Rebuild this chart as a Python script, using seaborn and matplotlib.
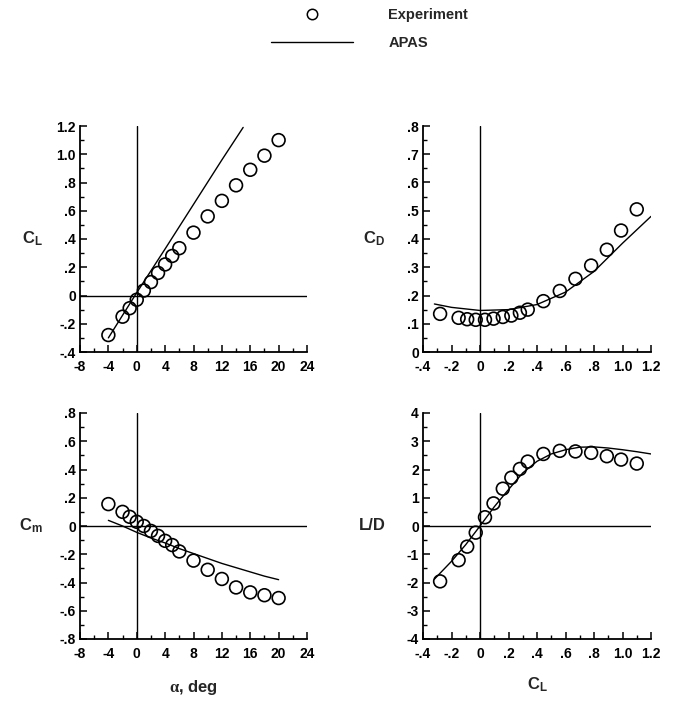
import numpy as np
import pandas as pd
import matplotlib
matplotlib.use("Agg")
import matplotlib.pyplot as plt
import seaborn as sns
from matplotlib.ticker import MultipleLocator, FuncFormatter
from matplotlib.lines import Line2D

sns.set_theme(style="ticks")
plt.rcParams['font.family'] = ['Liberation Sans', 'DejaVu Sans']
plt.rcParams['font.weight'] = 'bold'
plt.rcParams['mathtext.fontset'] = 'custom'
plt.rcParams['mathtext.bf'] = 'Liberation Sans:bold'
plt.rcParams['mathtext.rm'] = 'Liberation Serif'

# datos del experimento
alpha_exp = [-4, -2, -1, 0, 1, 2, 3, 4, 5, 6, 8, 10, 12, 14, 16, 18, 20]
cl_exp = [-0.28, -0.15, -0.09, -0.03, 0.035, 0.095, 0.16, 0.22, 0.28, 0.335,
          0.445, 0.56, 0.67, 0.78, 0.89, 0.99, 1.10]
cd_exp = [0.135, 0.121, 0.116, 0.114, 0.114, 0.118, 0.124, 0.129, 0.139, 0.150,
          0.180, 0.216, 0.259, 0.306, 0.362, 0.430, 0.505]
cm_exp = [0.155, 0.10, 0.065, 0.03, 0.0, -0.035, -0.07, -0.105, -0.135, -0.18,
          -0.245, -0.31, -0.375, -0.435, -0.47, -0.49, -0.51]
ld_exp = [-1.96, -1.21, -0.73, -0.235, 0.31, 0.80, 1.32, 1.71, 2.02, 2.28,
          2.55, 2.66, 2.64, 2.59, 2.47, 2.35, 2.21]

# curvas APAS
alpha_cl_apas = [-4, 0, 4, 8, 12, 15]
cl_apas = [-0.30, 0.02, 0.33, 0.645, 0.96, 1.19]

cl_cd_apas = [-0.32, -0.2, 0, 0.2, 0.4, 0.6, 0.8, 1.0, 1.2]
cd_apas = [0.170, 0.158, 0.147, 0.150, 0.168, 0.212, 0.285, 0.385, 0.48]

alpha_cm_apas = [-4, -2, 0, 2, 4, 6, 8, 10, 12, 14, 16, 18, 20]
cm_apas = [0.04, 0.0, -0.045, -0.085, -0.12, -0.16, -0.195, -0.23, -0.265,
           -0.295, -0.325, -0.355, -0.38]

cl_ld_apas = [-0.32, -0.2, -0.1, 0, 0.1, 0.2, 0.3, 0.4, 0.5, 0.6, 0.7, 0.8,
              0.9, 1.0, 1.1, 1.2]
ld_apas = [-1.88, -1.25, -0.66, 0.0, 0.68, 1.29, 1.88, 2.29, 2.55, 2.7, 2.79,
           2.8, 2.76, 2.7, 2.63, 2.55]

exp = pd.DataFrame({'alpha': alpha_exp, 'CL': cl_exp, 'CD': cd_exp,
                    'Cm': cm_exp, 'LD': ld_exp})


def fmt(v, pos):
    if abs(v) < 1e-9:
        return '0'
    s = f'{v:.1f}'
    if abs(v) < 1:
        s = s.replace('0.', '.')
    return s


def fmt_int(v, pos):
    return f'{int(round(v))}'


fig = plt.figure(figsize=(6.76, 7.02), dpi=100)
W, H = 676, 702


def make_ax(x0, x1, y0, y1):
    return fig.add_axes([x0 / W, 1 - y1 / H, (x1 - x0) / W, (y1 - y0) / H])


ax1 = make_ax(80, 307, 126, 352)
ax2 = make_ax(423, 651, 126, 352)
ax3 = make_ax(80, 307, 413, 639)
ax4 = make_ax(423, 651, 413, 639)

mk = dict(marker='o', s=85, facecolor='none', edgecolor='black', linewidth=1.2, zorder=3)
ln = dict(color='black', linewidth=1.0, zorder=2)

sns.lineplot(x=alpha_cl_apas, y=cl_apas, ax=ax1, **ln)
sns.scatterplot(data=exp, x='alpha', y='CL', ax=ax1, **mk)

sns.lineplot(x=cl_cd_apas, y=cd_apas, ax=ax2, **ln)
sns.scatterplot(data=exp, x='CL', y='CD', ax=ax2, **mk)

sns.lineplot(x=alpha_cm_apas, y=cm_apas, ax=ax3, **ln)
sns.scatterplot(data=exp, x='alpha', y='Cm', ax=ax3, **mk)

sns.lineplot(x=cl_ld_apas, y=ld_apas, ax=ax4, sort=False, **ln)
sns.scatterplot(data=exp, x='CL', y='LD', ax=ax4, **mk)

# limites y ticks
ax1.set(xlim=(-8, 24), ylim=(-0.4, 1.2))
ax3.set(xlim=(-8, 24), ylim=(-0.8, 0.8))
ax2.set(xlim=(-0.4, 1.2), ylim=(0, 0.8))
ax4.set(xlim=(-0.4, 1.2), ylim=(-4, 4))

for ax in (ax1, ax3):
    ax.xaxis.set_major_locator(MultipleLocator(4))
    ax.xaxis.set_minor_locator(MultipleLocator(2))
    ax.xaxis.set_major_formatter(FuncFormatter(fmt_int))
for ax in (ax2, ax4):
    ax.xaxis.set_major_locator(MultipleLocator(0.2))
    ax.xaxis.set_minor_locator(MultipleLocator(0.1))
    ax.xaxis.set_major_formatter(FuncFormatter(fmt))
ax1.yaxis.set_major_locator(MultipleLocator(0.2))
ax1.yaxis.set_minor_locator(MultipleLocator(0.1))
ax3.yaxis.set_major_locator(MultipleLocator(0.2))
ax3.yaxis.set_minor_locator(MultipleLocator(0.1))
ax2.yaxis.set_major_locator(MultipleLocator(0.1))
ax2.yaxis.set_minor_locator(MultipleLocator(0.05))
ax4.yaxis.set_major_locator(MultipleLocator(1))
ax4.yaxis.set_minor_locator(MultipleLocator(0.5))
for ax in (ax1, ax2, ax3):
    ax.yaxis.set_major_formatter(FuncFormatter(fmt))
ax4.yaxis.set_major_formatter(FuncFormatter(fmt_int))

ylabels = [r'$\mathbf{C_L}$', r'$\mathbf{C_D}$', r'$\mathbf{C_m}$', 'L/D']
for ax, lab in zip((ax1, ax2, ax3, ax4), ylabels):
    ax.axhline(0, color='black', linewidth=1.0, zorder=1)
    ax.axvline(0, color='black', linewidth=1.0, zorder=1)
    sns.despine(ax=ax)
    for sp in ('left', 'bottom'):
        ax.spines[sp].set_linewidth(1.3)
        ax.spines[sp].set_color('black')
    ax.tick_params(which='major', direction='in', length=5, width=1.1,
                   labelsize=10, pad=3, colors='black')
    ax.tick_params(which='minor', direction='in', length=3, width=1.0, colors='black')
    ax.tick_params(axis='x', which='major', pad=6)
    ax.set_ylabel(lab, rotation=0, fontsize=12, fontweight='bold', ha='right', va='center')
    ax.yaxis.set_label_coords(-0.165, 0.5)
    ax.set_xlabel('')
    for t in ax.get_xticklabels() + ax.get_yticklabels():
        t.set_fontweight('bold')

ax3.set_xlabel(r'$\mathrm{\alpha}$, deg', fontsize=12, fontweight='bold', va='center')
ax3.xaxis.set_label_coords(0.5, -0.215)
ax4.set_xlabel(r'$\mathbf{C_L}$', fontsize=12, fontweight='bold', va='center')
ax4.xaxis.set_label_coords(0.5, -0.2)

handles = [Line2D([], [], marker='o', linestyle='none', markersize=7.5,
                  markerfacecolor='none', markeredgecolor='black', markeredgewidth=1.1),
           Line2D([], [], color='black', linewidth=1.0)]
fig.legend(handles, ['Experiment', 'APAS'], loc='upper left',
           bbox_to_anchor=(271 / W, 1 - 8 / H), frameon=False,
           prop={'weight': 'bold', 'size': 10.5}, handlelength=5.6,
           handletextpad=2.45, labelspacing=0.95, borderpad=0, borderaxespad=0)

fig.savefig('out.png', dpi=100, facecolor='white')
